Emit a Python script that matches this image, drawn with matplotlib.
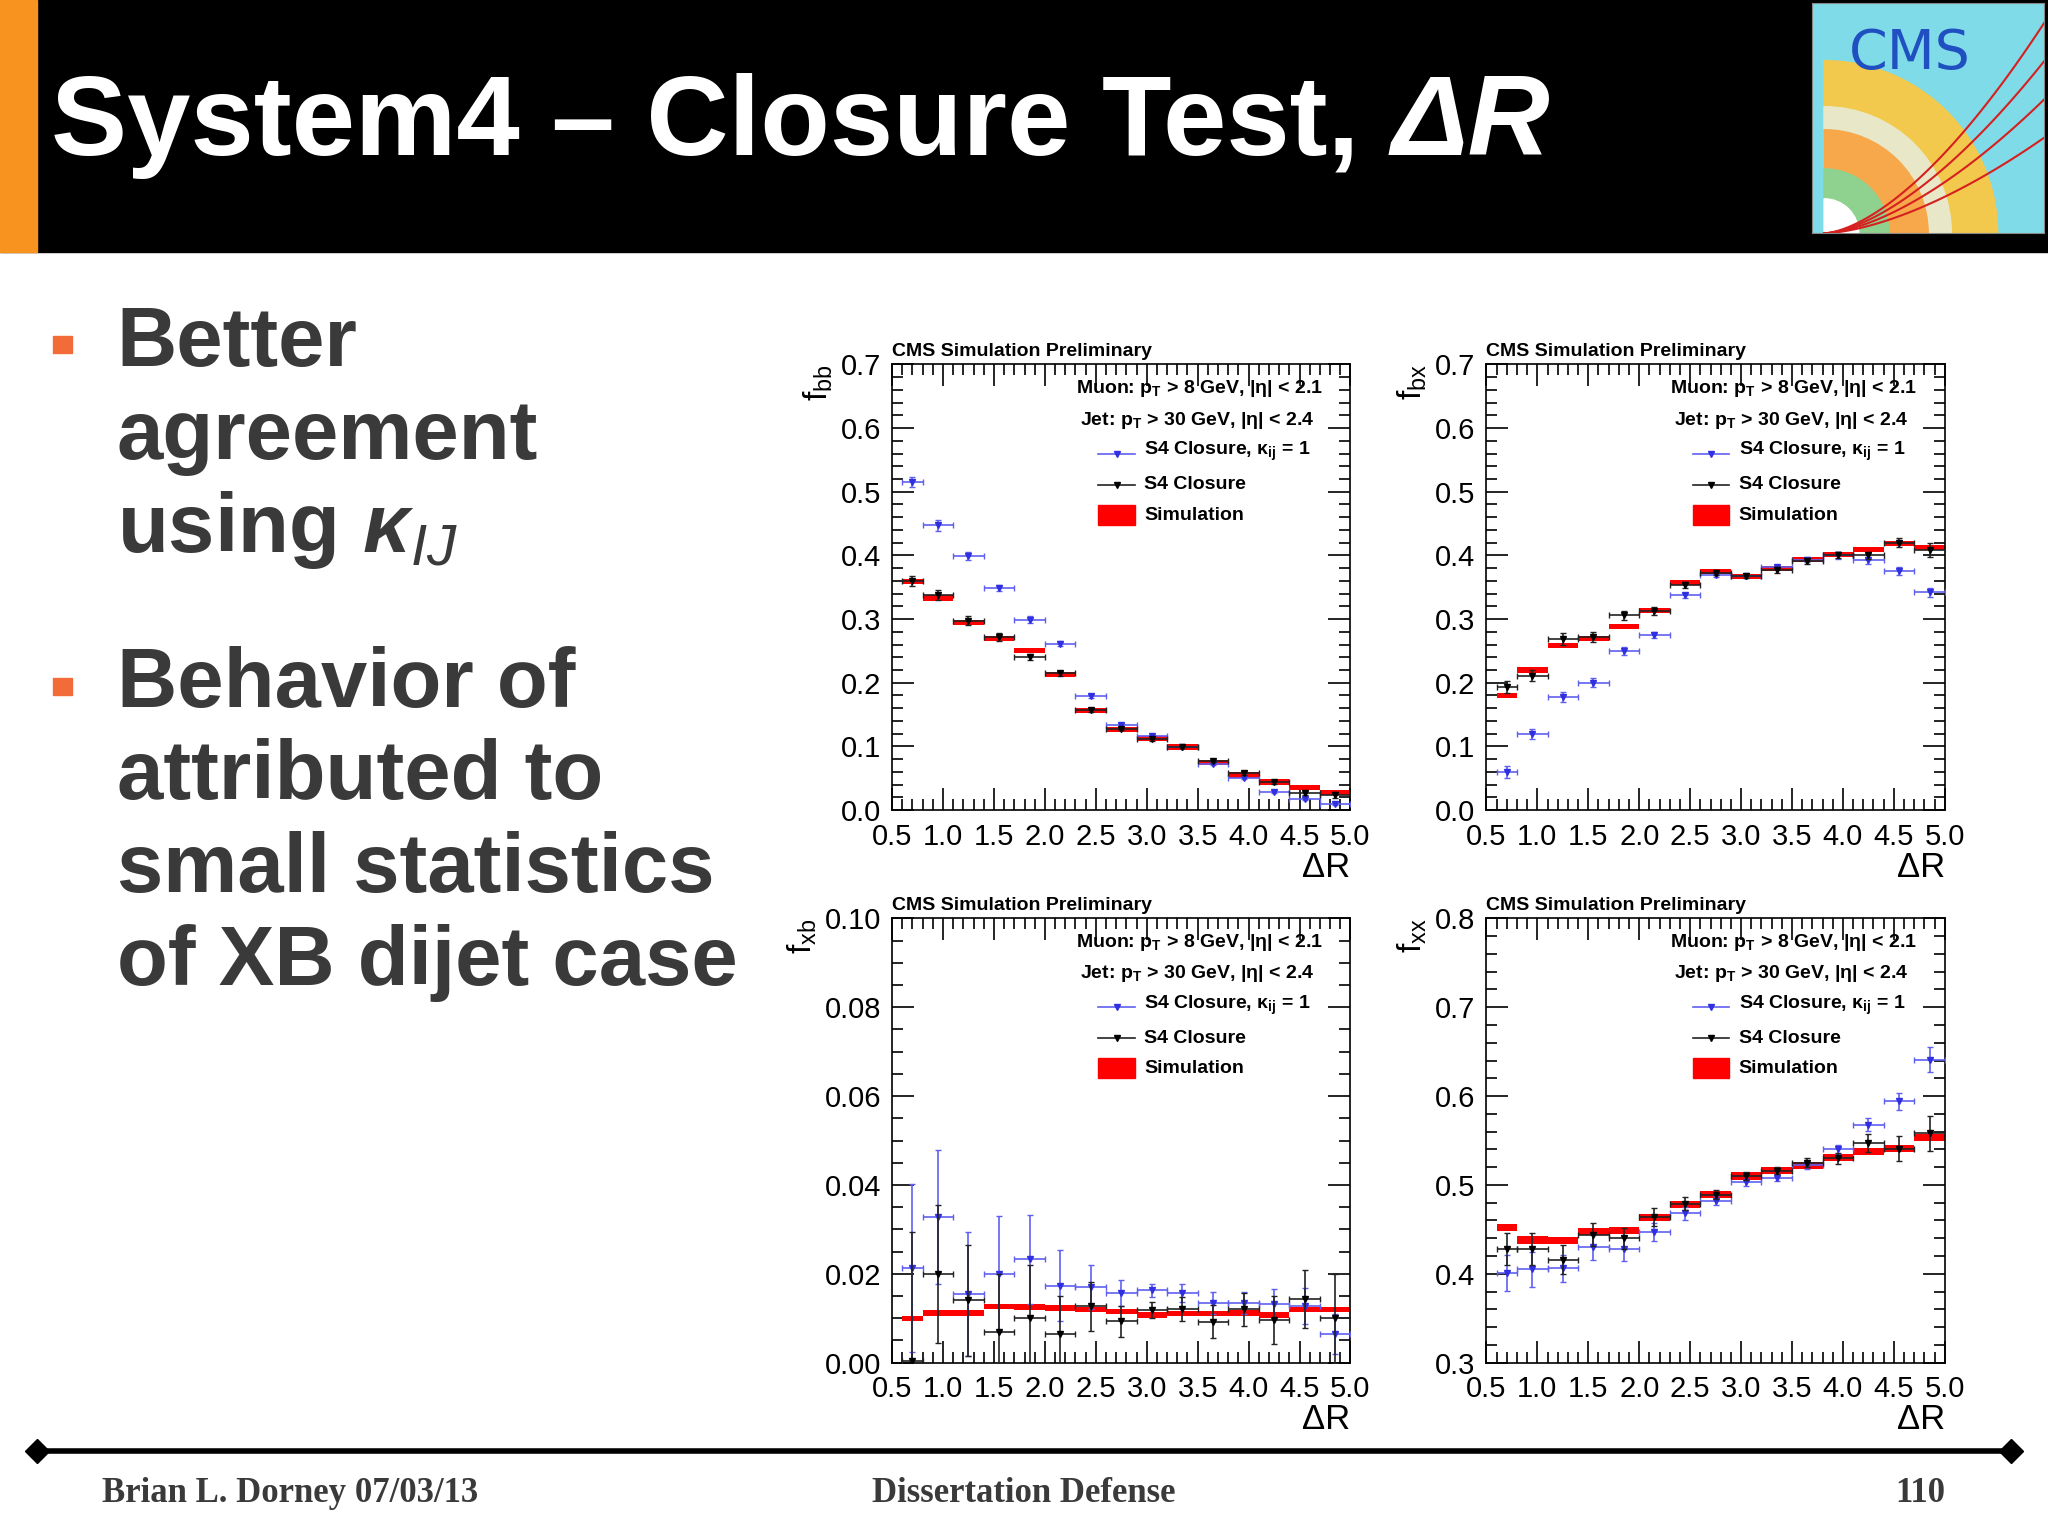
import matplotlib
matplotlib.use("Agg")
import matplotlib.pyplot as plt
import numpy as np
from matplotlib.patches import Rectangle, Wedge
from matplotlib.ticker import MultipleLocator

plt.rcParams['font.family'] = ['Liberation Sans', 'DejaVu Sans']
plt.rcParams['mathtext.fontset'] = 'custom'
plt.rcParams['mathtext.rm'] = 'Liberation Sans'
plt.rcParams['mathtext.it'] = 'Liberation Sans:italic'
plt.rcParams['mathtext.bf'] = 'Liberation Sans:bold'
plt.rcParams['mathtext.bfit'] = 'Liberation Sans:bold:italic'

edges = np.array([0.6, 0.8, 1.1, 1.4, 1.7, 2.0, 2.3, 2.6, 2.9, 3.2, 3.5, 3.8, 4.1, 4.4, 4.7, 5.0])

bb_kappa1 = [0.515, 0.447, 0.399, 0.349, 0.299, 0.261, 0.179, 0.134, 0.116, 0.099, 0.072, 0.050, 0.029, 0.018, 0.010]
bb_kappa1_err = [0.008, 0.008, 0.006, 0.005, 0.005, 0.004, 0.003, 0.003, 0.002, 0.002, 0.002, 0.002, 0.002, 0.002, 0.002]
bb_closure = [0.360, 0.338, 0.297, 0.272, 0.240, 0.215, 0.157, 0.128, 0.111, 0.099, 0.077, 0.058, 0.044, 0.027, 0.024]
bb_closure_err = [0.008, 0.008, 0.007, 0.006, 0.005, 0.004, 0.003, 0.003, 0.002, 0.002, 0.002, 0.003, 0.003, 0.004, 0.005]
bb_sim = [0.359, 0.333, 0.295, 0.270, 0.251, 0.213, 0.156, 0.127, 0.113, 0.099, 0.075, 0.055, 0.044, 0.035, 0.027]

bx_kappa1 = [0.060, 0.119, 0.177, 0.200, 0.250, 0.275, 0.337, 0.369, 0.368, 0.381, 0.393, 0.400, 0.392, 0.375, 0.342]
bx_kappa1_err = [0.009, 0.008, 0.008, 0.007, 0.006, 0.005, 0.004, 0.003, 0.003, 0.003, 0.004, 0.005, 0.005, 0.006, 0.007]
bx_closure = [0.193, 0.211, 0.269, 0.272, 0.306, 0.313, 0.353, 0.373, 0.368, 0.377, 0.391, 0.401, 0.400, 0.420, 0.408]
bx_closure_err = [0.009, 0.009, 0.009, 0.008, 0.007, 0.006, 0.005, 0.004, 0.003, 0.004, 0.005, 0.005, 0.006, 0.007, 0.011]
bx_sim = [0.180, 0.220, 0.258, 0.270, 0.288, 0.313, 0.357, 0.375, 0.367, 0.380, 0.393, 0.402, 0.409, 0.418, 0.412]

xb_kappa1 = [0.0213, 0.0328, 0.0155, 0.0200, 0.0233, 0.0173, 0.0170, 0.0157, 0.0163, 0.0157, 0.0135, 0.0135, 0.0132, 0.0128, 0.0065]
xb_kappa1_err = [0.019, 0.015, 0.014, 0.013, 0.010, 0.008, 0.005, 0.003, 0.0015, 0.002, 0.0025, 0.0025, 0.0033, 0.004, 0.0045]
xb_closure = [0.0003, 0.0200, 0.0140, 0.0070, 0.0100, 0.0064, 0.0127, 0.0093, 0.0118, 0.0120, 0.0092, 0.0120, 0.0096, 0.0143, 0.0100]
xb_closure_err = [0.029, 0.0155, 0.0125, 0.013, 0.012, 0.0085, 0.0055, 0.0035, 0.0018, 0.0027, 0.0037, 0.0037, 0.0055, 0.0065, 0.010]
xb_sim = [0.0100, 0.0112, 0.0112, 0.0127, 0.0125, 0.0123, 0.0120, 0.0115, 0.0107, 0.0110, 0.0110, 0.0112, 0.0107, 0.0120, 0.0120]

xx_kappa1 = [0.401, 0.405, 0.406, 0.430, 0.428, 0.447, 0.468, 0.482, 0.503, 0.508, 0.522, 0.540, 0.568, 0.594, 0.641]
xx_kappa1_err = [0.020, 0.020, 0.015, 0.014, 0.014, 0.010, 0.007, 0.005, 0.004, 0.004, 0.004, 0.005, 0.007, 0.010, 0.014]
xx_closure = [0.428, 0.428, 0.416, 0.444, 0.440, 0.464, 0.479, 0.489, 0.510, 0.516, 0.525, 0.530, 0.547, 0.541, 0.558]
xx_closure_err = [0.018, 0.018, 0.016, 0.013, 0.012, 0.010, 0.007, 0.005, 0.004, 0.004, 0.005, 0.006, 0.010, 0.014, 0.020]
xx_sim = [0.452, 0.438, 0.437, 0.448, 0.449, 0.463, 0.478, 0.489, 0.510, 0.516, 0.522, 0.531, 0.538, 0.541, 0.553]

panels = [
    ("bb", bb_kappa1, bb_kappa1_err, bb_closure, bb_closure_err, bb_sim, (0.0, 0.7), 0.1, 0.02, 0.004, "%.1f"),
    ("bx", bx_kappa1, bx_kappa1_err, bx_closure, bx_closure_err, bx_sim, (0.0, 0.7), 0.1, 0.02, 0.004, "%.1f"),
    ("xb", xb_kappa1, xb_kappa1_err, xb_closure, xb_closure_err, xb_sim, (0.0, 0.1), 0.02, 0.005, 0.0006, "%.2f"),
    ("xx", xx_kappa1, xx_kappa1_err, xx_closure, xx_closure_err, xx_sim, (0.3, 0.8), 0.1, 0.02, 0.004, "%.1f"),
]
positions = [
    [0.4356, 0.4723, 0.2238, 0.2903],
    [0.7258, 0.4723, 0.2238, 0.2903],
    [0.4356, 0.1123, 0.2238, 0.2894],
    [0.7258, 0.1123, 0.2238, 0.2894],
]

fig = plt.figure(figsize=(20.48, 15.35), dpi=100)
fig.patch.set_facecolor("white")

# Title bar
fig.add_artist(Rectangle((0, 0.836), 1, 0.164, transform=fig.transFigure, color="black", zorder=0))
fig.add_artist(Rectangle((0, 0.836), 0.018, 0.164, transform=fig.transFigure, color="#f7931e", zorder=1))
t = fig.text(0.025, 0.918, "System4 – Closure Test, ", color="white",
             fontsize=82, fontweight="bold", va="center", ha="left")
fig.canvas.draw()
bb = t.get_window_extent()
fig.text(bb.x1 / fig.bbox.width, 0.918, "ΔR", color="white", fontsize=82, fontweight="bold",
         style="italic", va="center", ha="left")

# CMS logo imitation
lax = fig.add_axes([0.885, 0.848, 0.113, 0.150])
lax.set_xlim(0, 1); lax.set_ylim(0, 1)
lax.add_patch(Rectangle((0, 0), 1, 1, color="#7fdbe8"))
lax.add_patch(Wedge((0.05, 0.0), 0.75, 0, 90, color="#f2c94c"))
lax.add_patch(Wedge((0.05, 0.0), 0.55, 0, 90, color="#e8e8c8"))
lax.add_patch(Wedge((0.05, 0.0), 0.45, 0, 90, color="#f7a84a"))
lax.add_patch(Wedge((0.05, 0.0), 0.28, 0, 90, color="#8fd18f"))
lax.add_patch(Wedge((0.05, 0.0), 0.15, 0, 90, color="#ffffff"))
tt = np.linspace(0, 1, 50)
for a in [0.5, 0.7, 0.9, 1.1]:
    lax.plot(0.05 + tt, a * tt ** 1.6 * 0.9, color="#d62020", lw=1.5)
lax.text(0.42, 0.78, "CMS", color="#1f4fc0", fontsize=40, ha="center", va="center", family="DejaVu Sans")
lax.set_xticks([]); lax.set_yticks([])
for s in lax.spines.values():
    s.set_color("#888888")

# Bullets
txtc = "#3a3a3a"
fig.add_artist(Rectangle((0.026, 0.770), 0.009, 0.011, transform=fig.transFigure, color="#f26b38"))
fig.add_artist(Rectangle((0.026, 0.547), 0.009, 0.011, transform=fig.transFigure, color="#f26b38"))
bl = ["Better", "agreement", r"using $\mathbfit{\kappa}_{\mathit{IJ}}$"]
for i, s in enumerate(bl):
    fig.text(0.057, 0.776 - i * 0.0605, s, fontsize=60, fontweight="bold", color=txtc, va="center")
bl2 = ["Behavior of", "attributed to", "small statistics", "of XB dijet case"]
for i, s in enumerate(bl2):
    fig.text(0.057, 0.554 - i * 0.0605, s, fontsize=60, fontweight="bold", color=txtc, va="center")

# Footer
fig.add_artist(plt.Line2D([0.018, 0.982], [0.0545, 0.0545], transform=fig.transFigure, color="black", lw=4))
fig.add_artist(plt.Line2D([0.018, 0.982], [0.0545, 0.0545], transform=fig.transFigure, color="black",
                          lw=0, marker="D", markersize=12))
fig.text(0.05, 0.027, "Brian L. Dorney 07/03/13", fontsize=25, fontweight="bold", color=txtc,
         family="Liberation Serif", va="center")
fig.text(0.50, 0.027, "Dissertation Defense", fontsize=25, fontweight="bold", color=txtc,
         family="Liberation Serif", va="center", ha="center")
fig.text(0.95, 0.027, "110", fontsize=25, fontweight="bold", color=txtc,
         family="Liberation Serif", va="center", ha="right")

centers = 0.5 * (edges[:-1] + edges[1:])
xerr = 0.5 * np.diff(edges)

for (name, k1, k1e, cl, cle, sim, ylim, maj, mnr, hh, fmt), pos in zip(panels, positions):
    ax = fig.add_axes(pos)
    sim = np.array(sim)
    ax.bar(edges[:-1], 2 * hh, width=np.diff(edges), bottom=sim - hh, align="edge",
           color="#ff0000", linewidth=0, zorder=2)
    ax.errorbar(centers, k1, xerr=xerr, yerr=k1e, fmt="v", color="#3030e0", ecolor="#6060f0",
                markersize=4, elinewidth=1.2, capsize=2, zorder=3)
    ax.errorbar(centers, cl, xerr=xerr, yerr=cle, fmt="v", color="black", ecolor="#222222",
                markersize=4, elinewidth=1.2, capsize=2, zorder=4)
    ax.set_xlim(0.5, 5.0)
    ax.set_ylim(*ylim)
    ax.xaxis.set_major_locator(MultipleLocator(0.5))
    ax.xaxis.set_minor_locator(MultipleLocator(0.1))
    ax.yaxis.set_major_locator(MultipleLocator(maj))
    ax.yaxis.set_minor_locator(MultipleLocator(mnr))
    ax.yaxis.set_major_formatter(matplotlib.ticker.FormatStrFormatter(fmt))
    ax.xaxis.set_major_formatter(matplotlib.ticker.FormatStrFormatter("%.1f"))
    ax.tick_params(which="both", direction="in", top=True, right=True, labelsize=21, width=1.2)
    ax.tick_params(which="major", length=16)
    ax.tick_params(axis="x", which="major", pad=9)
    ax.tick_params(axis="y", which="major", pad=8)
    ax.tick_params(which="minor", length=8)
    for s in ax.spines.values():
        s.set_linewidth(1.2)
    ax.set_xlabel("ΔR", fontsize=25, loc="right", labelpad=0)
    ax.set_ylabel(r"f$_{\rm %s}$" % name, fontsize=24, loc="top", labelpad=4)
    ax.text(0.0, 1.01, "CMS Simulation Preliminary", transform=ax.transAxes, fontsize=14,
            fontweight="bold", va="bottom", ha="left")
    ax.text(0.94, 0.945, r"Muon: $\mathbf{p_{T}}$ > 8 GeV, |η| < 2.1", transform=ax.transAxes,
            fontsize=14, fontweight="bold", ha="right", va="center")
    ax.text(0.92, 0.875, r"Jet: $\mathbf{p_{T}}$ > 30 GeV, |η| < 2.4", transform=ax.transAxes,
            fontsize=14, fontweight="bold", ha="right", va="center")
    ax.plot([0.45, 0.53], [0.80, 0.80], transform=ax.transAxes, color="#6060f0", lw=1.2)
    ax.plot([0.49], [0.80], transform=ax.transAxes, marker="v", color="#3030e0", markersize=4)
    ax.text(0.55, 0.805, r"S4 Closure, κ$_{\mathbf{ij}}$ = 1", transform=ax.transAxes,
            fontsize=14, fontweight="bold", va="center")
    ax.plot([0.45, 0.53], [0.73, 0.73], transform=ax.transAxes, color="#222222", lw=1.2)
    ax.plot([0.49], [0.73], transform=ax.transAxes, marker="v", color="black", markersize=4)
    ax.text(0.55, 0.73, "S4 Closure", transform=ax.transAxes, fontsize=14, fontweight="bold", va="center")
    ax.add_patch(Rectangle((0.45, 0.64), 0.08, 0.045, transform=ax.transAxes, color="#ff0000"))
    ax.text(0.55, 0.662, "Simulation", transform=ax.transAxes, fontsize=14, fontweight="bold", va="center")

fig.savefig("out.png", dpi=100)
